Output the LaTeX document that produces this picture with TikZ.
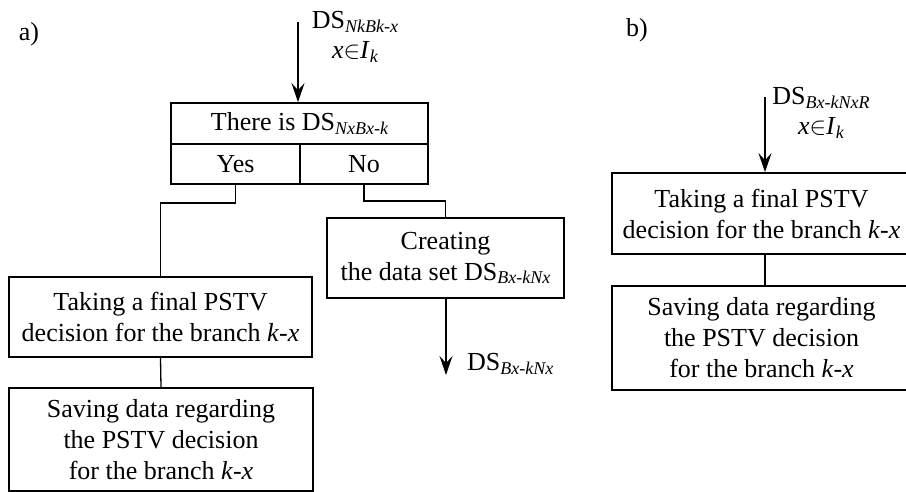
\documentclass[tikz,border=0pt]{standalone}
\usepackage{fontspec}
\setmainfont{Liberation Serif}
\usetikzlibrary{arrows.meta}
\newcommand\subs[1]{\raisebox{-0.3ex}{\fontsize{18}{18}\selectfont\itshape #1}}
\newcommand\inI{\textit{x}$\in$\textit{I}\subs{k}}
\tikzset{
  box/.style={draw, line width=1.7pt, inner sep=0pt, align=center, font=\fontsize{26}{31}\selectfont},
  lbl/.style={inner sep=0pt, align=center, font=\fontsize{26}{30}\selectfont},
  conn/.style={line width=1.7pt},
  thin/.style={line width=1.3pt},
  arr/.style={line width=1.7pt, -{Stealth[length=19pt,width=13pt,inset=7pt]}}
}
\begin{document}
\begin{tikzpicture}[x=1pt,y=-1pt]
\useasboundingbox (0,0) rectangle (906,492);
\clip (0,0) rectangle (906,492);
% labels
\node[lbl] (la) at (29,34) {a)};
\node[lbl] (lb) at (637,30) {b)};
% part a
\coordinate (inA) at (298,22);
\node[lbl] (dsA) at (355,37) {DS\subs{NkBk-x}\\\inI};
\node[box, minimum width=257pt, minimum height=41pt] (dec) at (299.5,123.5) {There is DS\subs{NxBx-k}};
\node[box, minimum width=129pt, minimum height=40pt] (yes) at (235.5,164) {Yes};
\node[box, minimum width=128pt, minimum height=40pt] (no) at (364,164) {No};
\node[box, minimum width=303pt, minimum height=80pt] (takeA) at (160.5,317) {Taking a final PSTV\\decision for the branch \textit{k}-\textit{x}};
\node[box, minimum width=304pt, minimum height=103pt] (saveA) at (161,439.5) {Saving data regarding\\the PSTV decision\\for the branch \textit{k}-\textit{x}};
\node[box, minimum width=237pt, minimum height=80pt] (create) at (445.5,258) {Creating\\the data set DS\subs{Bx-kNx}};
\coordinate (outA) at (446,375);
\node[lbl, anchor=west] (dsOut) at (467,364) {DS\subs{Bx-kNx}};
\draw[arr] (inA) -- (inA |- dec.north);
\draw[conn] (yes.south) -- ++(0,18) -| (takeA.north);
\draw[conn] (no.south) -- ++(0,16) -| (create.north);
\draw[thin] (takeA.south) -- (saveA.north);
\draw[arr] (create.south -| outA) -- (outA);
% part b
\coordinate (inB) at (765,97);
\node[lbl] (dsB) at (821,113) {DS\subs{Bx-kNxR}\\\inI};
\node[box, minimum width=299pt, minimum height=81pt] (takeB) at (761.5,213.5) {Taking a final PSTV\\decision for the branch \textit{k}-\textit{x}};
\node[box, minimum width=299pt, minimum height=104pt] (saveB) at (761.5,338) {Saving data regarding\\the PSTV decision\\for the branch \textit{k}-\textit{x}};
\draw[arr] (inB) -- (inB |- takeB.north);
\draw[thin] (takeB.south -| inB) -- (saveB.north -| inB);
\end{tikzpicture}
\end{document}
